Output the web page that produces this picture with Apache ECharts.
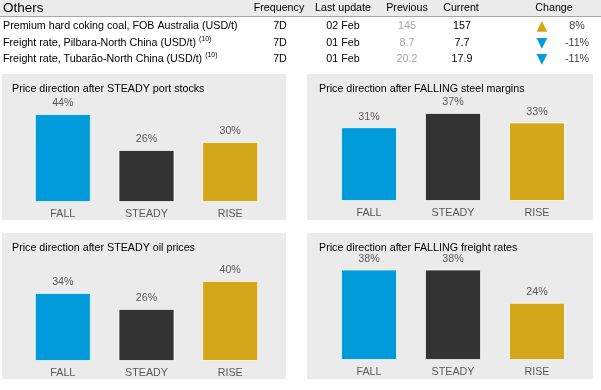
<!DOCTYPE html>
<html>
<head>
<meta charset="utf-8">
<script src="https://cdn.jsdelivr.net/npm/echarts@6/dist/echarts.min.js"></script>
<style>html,body{margin:0;padding:0;background:#fff;}#c{width:601px;height:390px;}</style>
</head>
<body>
<div id="c"></div>
<script>
// ---- Table data ----
const tableTitle = 'Others';
const tableHeaders = ['Frequency', 'Last update', 'Previous', 'Current', 'Change'];
const rowNames = ['Premium hard coking coal, FOB Australia (USD/t)', 'Freight rate, Pilbara-North China (USD/t)', 'Freight rate, Tubarão-North China (USD/t)'];
const rowNotes = ['', '(10)', '(10)'];
const frequency = ['7D', '7D', '7D'];
const lastUpdate = ['02 Feb', '01 Feb', '01 Feb'];
const previous = ['145', '8.7', '20.2'];
const current = ['157', '7.7', '17.9'];
const change = ['8%', '-11%', '-11%'];
const direction = ['up', 'down', 'down'];

// ---- Chart data ----
const categories = ['FALL', 'STEADY', 'RISE'];
const panelTitles = [
  'Price direction after STEADY port stocks',
  'Price direction after FALLING steel margins',
  'Price direction after STEADY oil prices',
  'Price direction after FALLING freight rates'
];
const portStocks = [44, 26, 30];
const steelMargins = [31, 37, 33];
const oilPrices = [34, 26, 40];
const freightRates = [38, 38, 24];
const panelValues = [portStocks, steelMargins, oilPrices, freightRates];

// ---- Styling / layout ----
const FONT = '"Liberation Sans", Arial, sans-serif';
const barColors = ['#009BDB', '#333333', '#D4A619'];
const panels = [
  {x: 2, y: 74, w: 284, h: 146},
  {x: 307, y: 74, w: 286, h: 146},
  {x: 2, y: 233, w: 284, h: 146},
  {x: 307, y: 233, w: 286, h: 146}
];
const grids = [
  {left: 21, top: 102, width: 251, height: 100},
  {left: 327, top: 101, width: 252, height: 100},
  {left: 21, top: 261, width: 251, height: 100},
  {left: 327, top: 260, width: 252, height: 100}
];
const yMax = [50, 42, 50, 42];
const titlePos = [{left: 12, top: 83}, {left: 319, top: 83}, {left: 12, top: 242}, {left: 319, top: 242}];

const colX = {freq: 280, last: 343, prev: 407, cur: 462, tri: 542, chg: 577};
const headerX = [279, 343, 407, 461, 554];
const rowY = [26, 43, 59];

const graphic = [];
panels.forEach(p => graphic.push({type: 'rect', z: -10, shape: {x: p.x, y: p.y, width: p.w, height: p.h}, style: {fill: '#EBEBEB'}, silent: true}));
graphic.push({type: 'rect', z: -10, shape: {x: 0, y: 0, width: 601, height: 16}, style: {fill: '#EBEBEB'}, silent: true});
graphic.push({type: 'line', shape: {x1: 0, y1: 16.5, x2: 601, y2: 16.5}, style: {stroke: '#A6A6A6', lineWidth: 1}, silent: true});
graphic.push({type: 'text', x: 3, y: 8, style: {text: tableTitle, font: '13.5px ' + FONT, fill: '#000', verticalAlign: 'middle', align: 'left'}});
tableHeaders.forEach((h, i) => graphic.push({type: 'text', x: headerX[i], y: 8, style: {text: h, font: '10.7px ' + FONT, fill: '#000', verticalAlign: 'middle', align: 'center'}}));

function txt(x, y, t, color, align) {
  return {type: 'text', x: x, y: y, style: {text: t, font: '10.7px ' + FONT, fill: color, verticalAlign: 'middle', align: align || 'center'}};
}
rowNames.forEach((name, i) => {
  const y = rowY[i];
  graphic.push({type: 'text', x: 3, y: y, style: {
    text: name + (rowNotes[i] ? ' {s|' + rowNotes[i] + '}' : ''),
    font: '10.7px ' + FONT, fill: '#000', verticalAlign: 'middle', align: 'left', lineHeight: 14,
    rich: {s: {fontSize: 7, fontFamily: FONT, verticalAlign: 'top', lineHeight: 8, fill: '#000'}}
  }});
  graphic.push(txt(colX.freq, y, frequency[i], '#000'));
  graphic.push(txt(colX.last, y, lastUpdate[i], '#000'));
  graphic.push(txt(colX.prev, y, previous[i], '#A6A6A6'));
  graphic.push(txt(colX.cur, y, current[i], '#000'));
  graphic.push(txt(colX.chg, y, change[i], '#404040'));
  graphic.push({type: 'text', x: colX.tri, y: y, style: {
    text: direction[i] === 'up' ? '▲' : '▼',
    font: '14px "DejaVu Sans", sans-serif',
    fill: direction[i] === 'up' ? barColors[2] : barColors[0],
    verticalAlign: 'middle', align: 'center'}});
});

const option = {
  animation: false,
  backgroundColor: '#fff',
  title: panelTitles.map((t, i) => ({
    text: t, left: titlePos[i].left, top: titlePos[i].top, padding: 0,
    textStyle: {fontSize: 10.7, fontWeight: 'normal', color: '#000', fontFamily: FONT, lineHeight: 12}
  })),
  grid: grids,
  xAxis: grids.map((g, i) => ({
    type: 'category', gridIndex: i, data: categories,
    axisLine: {show: false}, axisTick: {show: false},
    axisLabel: {fontSize: 10.7, color: '#595959', fontFamily: FONT, margin: 7}
  })),
  yAxis: grids.map((g, i) => ({
    type: 'value', gridIndex: i, min: 0, max: yMax[i], show: false, splitLine: {show: false}
  })),
  series: panelValues.map((vals, i) => ({
    type: 'bar', xAxisIndex: i, yAxisIndex: i, data: vals, barWidth: 56,
    itemStyle: {color: p => barColors[p.dataIndex], borderColor: 'rgba(255,255,255,0.7)', borderWidth: 1},
    label: {show: true, position: 'top', distance: 5, formatter: '{c}%', fontSize: 10.7, color: '#595959', fontFamily: FONT}
  })),
  graphic: graphic
};
echarts.init(document.getElementById('c')).setOption(option);
</script>
</body>
</html>
